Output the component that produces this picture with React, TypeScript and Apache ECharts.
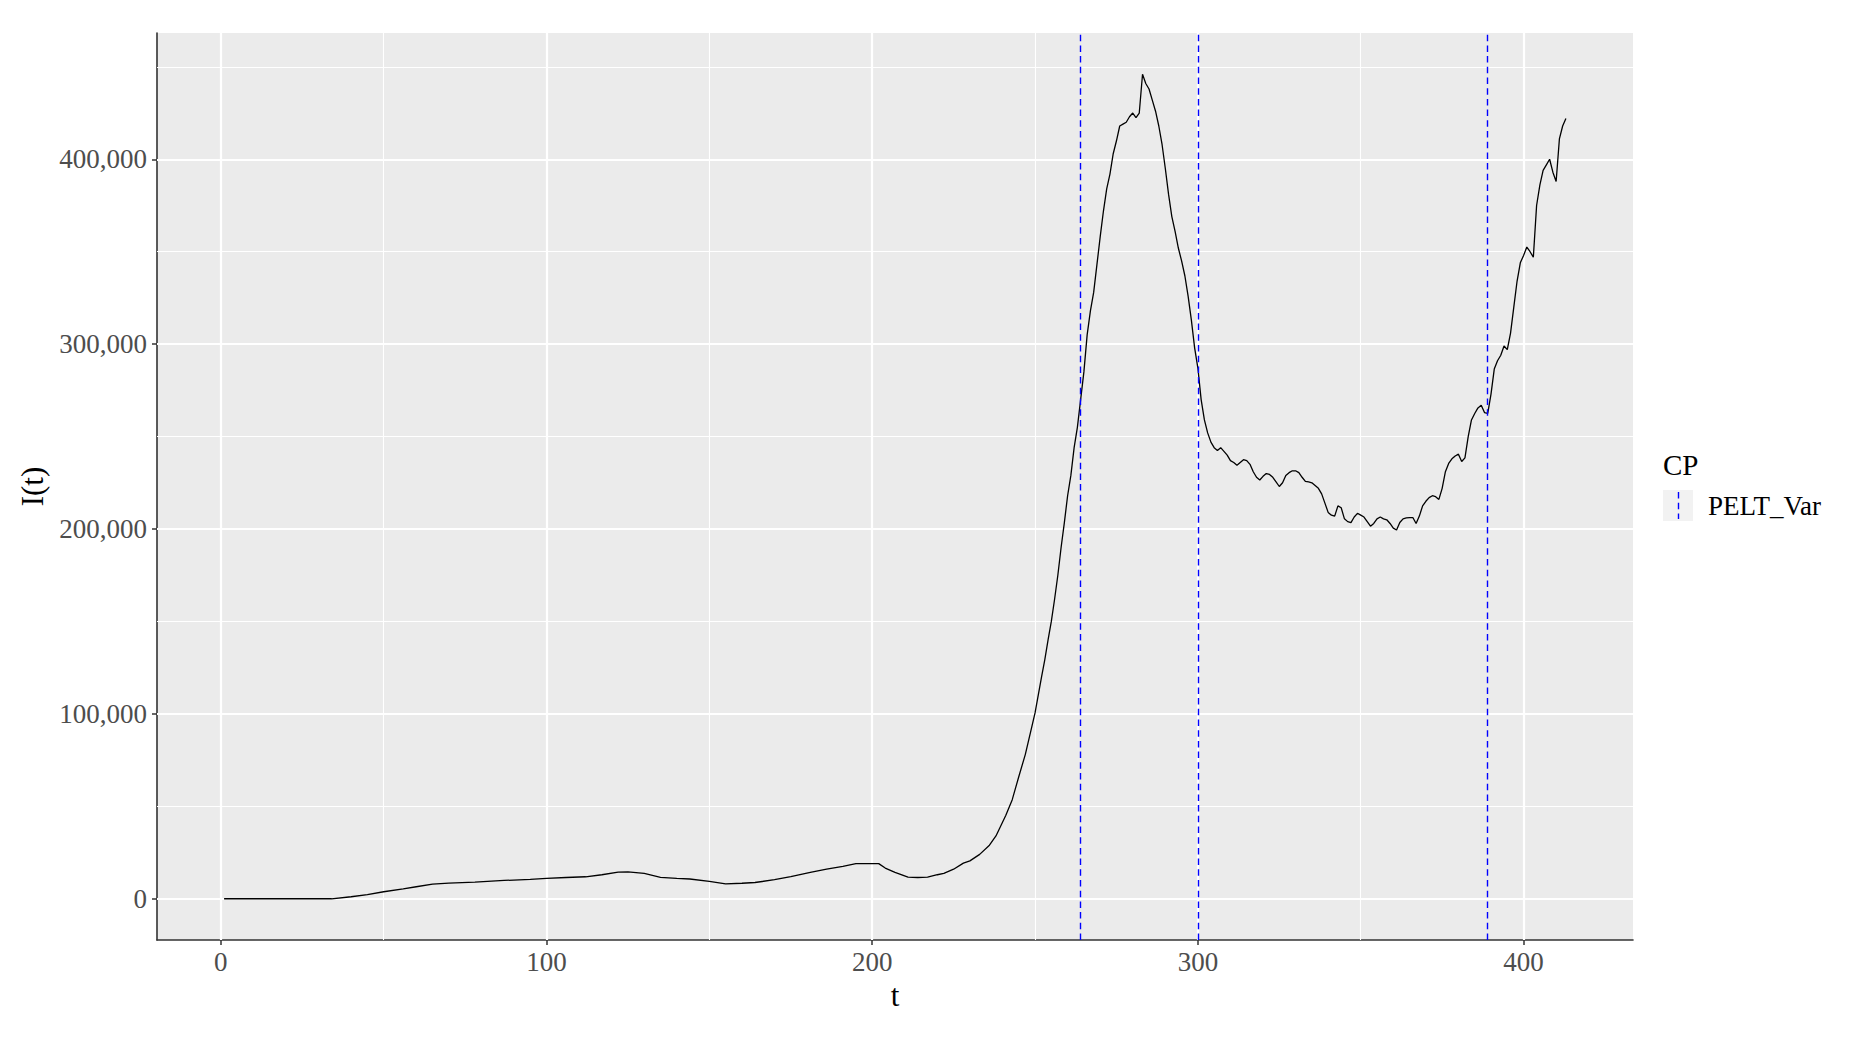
import React, { useEffect, useRef } from "react";
import * as echarts from "echarts";

// ---- data ----
const tValues = [
  1, 10, 20, 34, 40, 45, 50, 56, 60, 65, 70, 78, 87, 95, 100, 106, 112, 117, 122, 125,
  130, 135, 140, 144, 150, 155, 160, 164, 170, 175, 181, 186, 191, 195, 202, 204, 207, 211, 214, 217,
  220, 222, 225, 228, 230, 233, 236, 238, 241, 243, 245, 247, 249, 250, 252, 253, 254, 255, 256, 257,
  258, 259, 260, 261, 262, 263, 264, 265, 266, 267, 268, 269, 270, 271, 272, 273, 274, 275, 276, 277,
  278, 279, 280, 281, 282, 283, 284, 285, 286, 287, 288, 289, 290, 291, 292, 293, 294, 295, 296, 297,
  298, 299, 300, 301, 302, 303, 304, 305, 306, 307, 308, 309, 310, 311, 312, 313, 314, 315, 316, 317,
  318, 319, 320, 321, 322, 323, 324, 325, 326, 327, 328, 329, 330, 331, 332, 333, 334, 335, 336, 337,
  338, 339, 340, 341, 342, 343, 344, 345, 346, 347, 348, 349, 350, 351, 352, 353, 354, 355, 356, 357,
  358, 359, 360, 361, 362, 363, 364, 365, 366, 367, 368, 369, 370, 371, 372, 373, 374, 375, 376, 377,
  378, 379, 380, 381, 382, 383, 384, 385, 386, 387, 388, 389, 390, 391, 392, 393, 394, 395, 396, 397,
  398, 399, 400, 401, 402, 403, 404, 405, 406, 407, 408, 409, 410, 411, 412, 413,
];
const iValues = [
  0, 0, 0, 0, 1100, 2200, 3800, 5400, 6500, 7900, 8500, 9000, 9900, 10500, 11000, 11500, 11900, 13000, 14400, 14600,
  13700, 11600, 11000, 10700, 9400, 8100, 8400, 8800, 10300, 12000, 14300, 16000, 17500, 19000, 19000, 16600, 14300, 11700, 11500, 11700,
  13000, 13700, 16000, 19300, 20500, 24000, 29000, 34000, 45000, 53600, 66000, 78000, 93000, 100500, 120000, 129400, 140000, 150000, 162000, 175000,
  190000, 203500, 218000, 229000, 244000, 255000, 270000, 285000, 305000, 318000, 328000, 343000, 358000, 372000, 384000, 392000, 403000, 410000, 418000, 419000,
  420000, 423000, 425000, 422500, 425000, 446000, 441000, 438000, 432000, 426000, 418000, 408000, 395000, 381000, 369000, 361000, 352000, 345000, 337000, 326000,
  313000, 298000, 287000, 270000, 259000, 252000, 247000, 244000, 242500, 244000, 242000, 240000, 237000, 236000, 234500, 236000, 237500, 237000, 235000, 231000,
  228000, 226500, 228500, 230000, 229500, 228000, 225500, 223000, 225000, 229000, 230500, 231500, 231500, 230500, 228000, 225800, 225500, 225000, 223500, 222000,
  219000, 214000, 209000, 207500, 207000, 212500, 211500, 205500, 204000, 203500, 206500, 208500, 207500, 206500, 204000, 201500, 203000, 205500, 206500, 205500,
  205000, 203000, 200500, 199500, 203500, 205500, 206000, 206200, 206200, 203000, 207000, 212500, 215000, 217000, 218000, 217500, 216000, 222000, 231000, 235500,
  238000, 239500, 240500, 236500, 238500, 250000, 259000, 262500, 265500, 267000, 263000, 262500, 273000, 286500, 291000, 294000, 299000, 297000, 306000, 320000,
  334000, 344000, 348000, 352500, 350000, 347000, 375000, 386000, 394000, 397000, 400000, 393000, 388000, 411000, 418000, 422000,
];
const changePoints = [264, 300, 389];
const xTickLabels = [0, 100, 200, 300, 400];
const yTickLabels = [0, 100000, 200000, 300000, 400000];
const xGridMinor = [50, 150, 250, 350];
const yGridMinor = [50000, 150000, 250000, 350000, 450000];
const legendTitle = "CP";
const legendLabel = "PELT_Var";

const FONT = "'Liberation Serif', 'Times New Roman', serif";

export default function App() {
  const ref = useRef<HTMLDivElement>(null);

  useEffect(() => {
    const chart = echarts.init(ref.current!, null, { renderer: "svg" });

    const gridLines = [
      ...xTickLabels.map((v) => ({ xAxis: v, lineStyle: { width: 2.2 } })),
      ...xGridMinor.map((v) => ({ xAxis: v, lineStyle: { width: 1.1 } })),
      ...yTickLabels.map((v) => ({ yAxis: v, lineStyle: { width: 2.2 } })),
      ...yGridMinor.map((v) => ({ yAxis: v, lineStyle: { width: 1.1 } })),
    ];

    chart.setOption({
      animation: false,
      backgroundColor: "#ffffff",
      grid: {
        left: 157,
        right: 217,
        top: 33,
        bottom: 97,
        show: true,
        backgroundColor: "#EBEBEB",
        borderWidth: 0,
      },
      xAxis: {
        type: "value",
        min: -19.6,
        max: 433.6,
        splitLine: { show: false },
        axisLine: { show: true, onZero: false, lineStyle: { color: "#333333", width: 1.6 } },
        axisTick: {
          show: true,
          customValues: xTickLabels,
          length: 5,
          lineStyle: { color: "#333333", width: 1.5 },
        },
        axisLabel: {
          customValues: xTickLabels,
          margin: 8,
          color: "#4D4D4D",
          fontSize: 27,
          fontFamily: FONT,
          formatter: (v: number) => (v % 100 === 0 ? String(v) : ""),
        },
        name: "t",
        nameLocation: "middle",
        nameGap: 40,
        nameTextStyle: { fontSize: 31, color: "#000000", fontFamily: FONT },
      },
      yAxis: {
        type: "value",
        min: -22300,
        max: 468300,
        splitLine: { show: false },
        axisLine: { show: true, onZero: false, lineStyle: { color: "#333333", width: 1.6 } },
        axisTick: {
          show: true,
          customValues: yTickLabels,
          length: 5,
          lineStyle: { color: "#333333", width: 1.5 },
        },
        axisLabel: {
          customValues: yTickLabels,
          margin: 10,
          color: "#4D4D4D",
          fontSize: 27,
          fontFamily: FONT,
          formatter: (v: number) =>
            v % 100000 === 0 ? Number(v).toLocaleString("en-US") : "",
        },
        name: "I(t)",
        nameLocation: "middle",
        nameGap: 108,
        nameRotate: 90,
        nameTextStyle: { fontSize: 31, color: "#000000", fontFamily: FONT },
      },
      series: [
        {
          name: "grid",
          type: "line",
          data: [],
          z: 1,
          silent: true,
          markLine: {
            silent: true,
            z: 1,
            symbol: ["none", "none"],
            label: { show: false },
            lineStyle: { color: "#FFFFFF", type: "solid" },
            data: gridLines,
          },
        },
        {
          name: "I",
          type: "line",
          data: tValues.map((t, i) => [t, iValues[i]]),
          showSymbol: false,
          symbol: "none",
          z: 3,
          silent: true,
          lineStyle: { color: "#000000", width: 1.3 },
        },
        {
          name: legendLabel,
          type: "line",
          data: [],
          z: 4,
          silent: true,
          markLine: {
            silent: true,
            z: 4,
            symbol: ["none", "none"],
            label: { show: false },
            lineStyle: { color: "#0000FF", type: [6.5, 4.2], width: 1.4 },
            data: changePoints.map((v) => ({ xAxis: v })),
          },
        },
      ],
      graphic: [
        {
          type: "text",
          left: 1663,
          top: 450,
          style: { text: legendTitle, font: `29px ${FONT}`, fill: "#000000" },
        },
        {
          type: "rect",
          shape: { x: 1663, y: 490, width: 30, height: 31 },
          style: { fill: "#F2F2F2" },
        },
        {
          type: "line",
          shape: { x1: 1678.5, y1: 492, x2: 1678.5, y2: 519 },
          style: { stroke: "#0000FF", lineWidth: 1.4, lineDash: [6.5, 4.2] },
        },
        {
          type: "text",
          left: 1708,
          top: 492,
          style: { text: legendLabel, font: `27px ${FONT}`, fill: "#000000" },
        },
      ],
    });

    return () => chart.dispose();
  }, []);

  return (
    <div
      ref={ref}
      style={{
        position: "fixed",
        left: 0,
        top: 0,
        width: "1850px",
        height: "1037px",
        background: "#ffffff",
      }}
    />
  );
}
